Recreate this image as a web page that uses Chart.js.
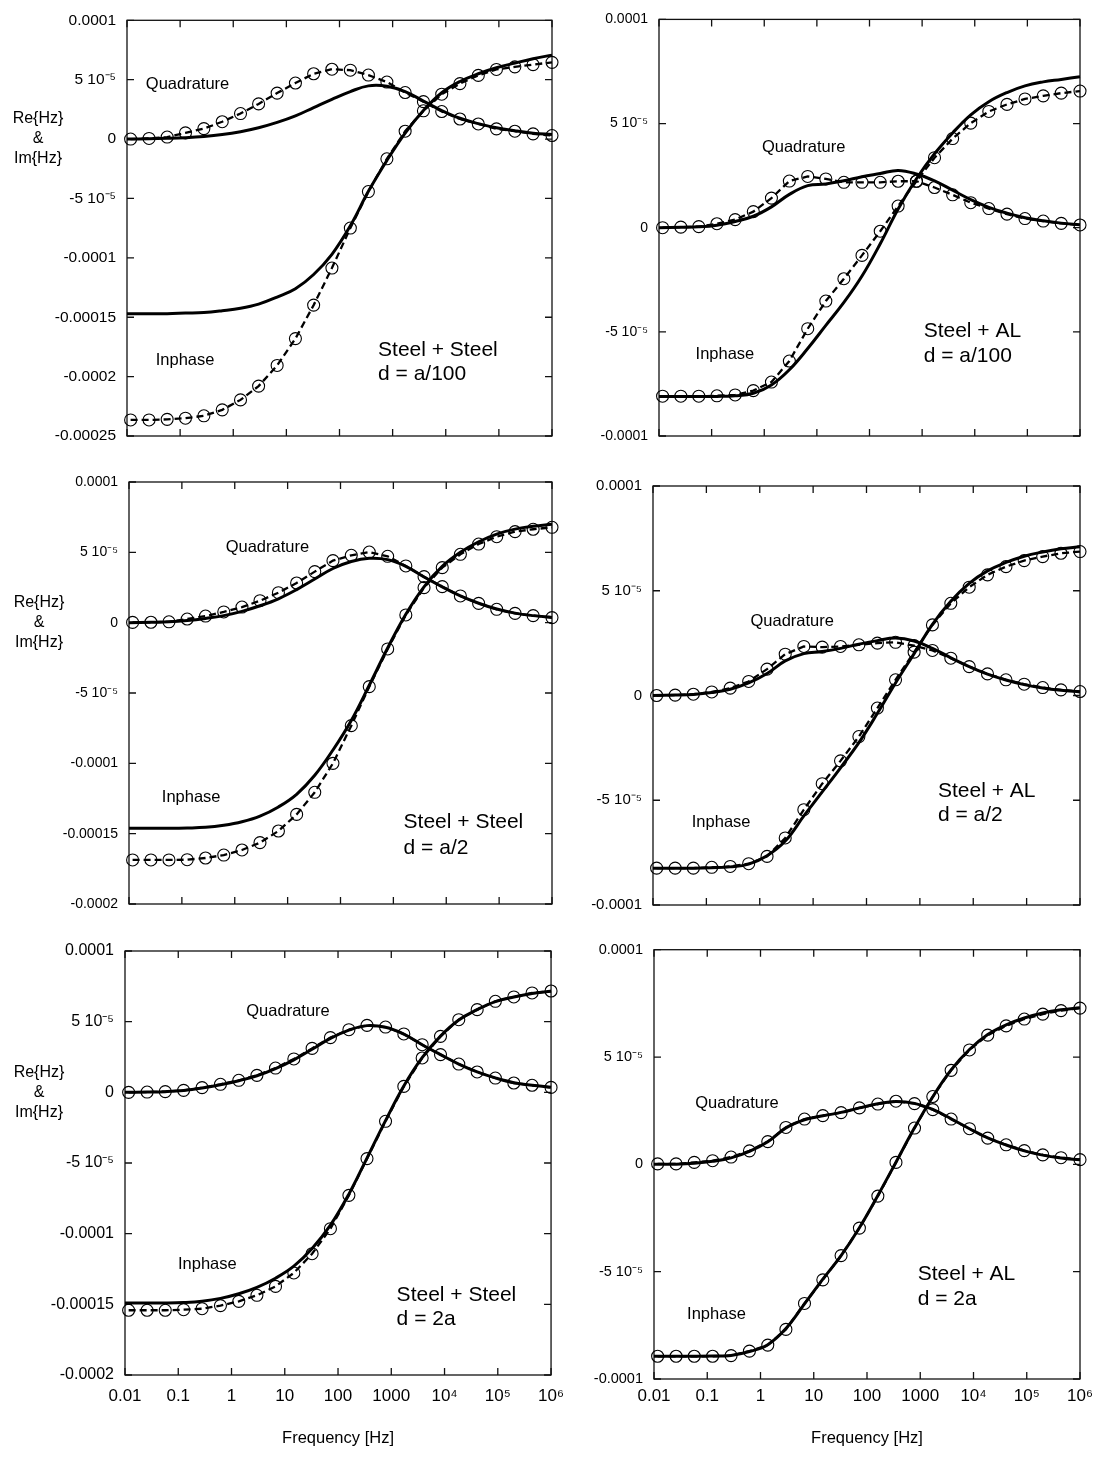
<!DOCTYPE html>
<html lang="en">
<head>
<meta charset="UTF-8">
<title>Re{Hz} &amp; Im{Hz} versus frequency</title>
<script src="https://cdn.jsdelivr.net/npm/chart.js@4"></script>
<style>
  body { margin: 0; background: #fff; }
  #wrap { position: relative; width: 1100px; height: 1458px; }
  #wrap canvas { position: absolute; }
</style>
</head>
<body>
<div id="wrap"></div>
<script>
// frequencies of the computed points (circles), and of the solid curves
const freq = [0.0117, 0.026, 0.057, 0.126, 0.28, 0.62, 1.37, 3.0, 6.7, 14.8, 32.6, 72,
              160, 350, 780, 1720, 3800, 8400, 18500, 41000, 90000, 200000, 440000, 1000000];
const fitFreq = [0.01, 0.026, 0.057, 0.126, 0.28, 0.62, 1.37, 3.0, 6.7, 14.8, 32.6, 72,
                 160, 350, 780, 1720, 3800, 8400, 18500, 41000, 90000, 200000, 440000, 1000000];

const decades = [0.01, 0.1, 1, 10, 100, 1000, 1e4, 1e5, 1e6];
const decadeLabels = ['0.01', '0.1', '1', '10', '100', '1000', '10⁴', '10⁵', '10⁶'];

// y values in units of 1e-5
const yTicks25 = [10, 5, 0, -5, -10, -15, -20, -25];
const yLabels25 = ['0.0001', '5 10⁻⁵', '0', '-5 10⁻⁵', '-0.0001', '-0.00015', '-0.0002', '-0.00025'];
const yTicks20 = [10, 5, 0, -5, -10, -15, -20];
const yLabels20 = ['0.0001', '5 10⁻⁵', '0', '-5 10⁻⁵', '-0.0001', '-0.00015', '-0.0002'];
const yTicks10 = [10, 5, 0, -5, -10];
const yLabels10 = ['0.0001', '5 10⁻⁵', '0', '-5 10⁻⁵', '-0.0001'];

// Steel + Steel, d = a/100
const ssA_quadFit = [0, 0.02, 0.06, 0.12, 0.22, 0.38, 0.62, 0.95, 1.4, 1.95, 2.65, 3.35, 4.0, 4.48, 4.45, 4.0, 3.2, 2.4, 1.75, 1.3, 0.95, 0.7, 0.5, 0.38];
const ssA_quadPts = [0, 0.05, 0.17, 0.52, 0.88, 1.46, 2.15, 2.96, 3.87, 4.72, 5.5, 5.88, 5.8, 5.39, 4.8, 3.92, 3.15, 2.32, 1.69, 1.27, 0.86, 0.66, 0.44, 0.3];
const ssA_inFit = [-14.7, -14.7, -14.7, -14.65, -14.6, -14.45, -14.25, -13.9, -13.3, -12.6, -11.4, -9.7, -7.3, -4.4, -1.8, 0.5, 2.4, 3.9, 4.85, 5.5, 6.0, 6.4, 6.77, 7.07];
const ssA_inPts = [-23.65, -23.65, -23.6, -23.5, -23.3, -22.8, -21.96, -20.8, -19.06, -16.8, -13.98, -10.86, -7.49, -4.42, -1.66, 0.66, 2.38, 3.78, 4.67, 5.36, 5.86, 6.08, 6.27, 6.46];

// Steel + AL, d = a/100
const saA_quadFit = [0, 0.02, 0.04, 0.12, 0.3, 0.55, 1.0, 1.6, 2.02, 2.1, 2.25, 2.45, 2.6, 2.75, 2.58, 2.25, 1.8, 1.35, 0.98, 0.7, 0.48, 0.33, 0.22, 0.14];
const saA_quadPts = [0, 0.03, 0.05, 0.19, 0.39, 0.77, 1.42, 2.24, 2.46, 2.34, 2.18, 2.18, 2.18, 2.23, 2.23, 1.93, 1.58, 1.2, 0.92, 0.65, 0.44, 0.32, 0.21, 0.13];
const saA_inFit = [-8.1, -8.1, -8.1, -8.1, -8.07, -7.95, -7.55, -6.82, -5.8, -4.69, -3.59, -2.32, -0.77, 0.9, 2.35, 3.55, 4.55, 5.42, 6.05, 6.49, 6.81, 7.0, 7.12, 7.25];
const saA_inPts = [-8.09, -8.09, -8.09, -8.07, -8.03, -7.82, -7.41, -6.4, -4.85, -3.52, -2.45, -1.33, -0.17, 1.04, 2.23, 3.36, 4.28, 5.02, 5.58, 5.92, 6.18, 6.33, 6.46, 6.56];

// Steel + Steel, d = a/2
const ssB_quadFit = [0, 0.03, 0.06, 0.15, 0.3, 0.5, 0.8, 1.2, 1.7, 2.35, 3.1, 3.85, 4.35, 4.58, 4.48, 4.0, 3.25, 2.55, 1.9, 1.38, 0.97, 0.68, 0.5, 0.37];
const ssB_quadPts = [0.02, 0.03, 0.06, 0.26, 0.47, 0.76, 1.11, 1.56, 2.13, 2.82, 3.63, 4.41, 4.79, 5.02, 4.72, 4.03, 3.27, 2.56, 1.9, 1.37, 0.95, 0.66, 0.5, 0.36];
const ssB_inFit = [-14.62, -14.62, -14.62, -14.6, -14.55, -14.4, -14.15, -13.75, -13.1, -12.2, -10.85, -9.05, -6.95, -4.45, -1.8, 0.6, 2.55, 4.0, 5.0, 5.75, 6.3, 6.65, 6.85, 7.0];
const ssB_inPts = [-16.87, -16.87, -16.87, -16.85, -16.73, -16.52, -16.16, -15.64, -14.81, -13.63, -12.06, -10.0, -7.32, -4.55, -1.87, 0.55, 2.49, 3.91, 4.86, 5.59, 6.11, 6.47, 6.64, 6.78];

// Steel + AL, d = a/2
const saB_quadFit = [0, 0.02, 0.05, 0.14, 0.3, 0.6, 1.05, 1.65, 2.0, 2.1, 2.25, 2.45, 2.62, 2.74, 2.6, 2.25, 1.8, 1.38, 1.02, 0.74, 0.52, 0.36, 0.25, 0.17];
const saB_quadPts = [0, 0.02, 0.06, 0.17, 0.35, 0.67, 1.26, 1.97, 2.34, 2.31, 2.34, 2.42, 2.5, 2.54, 2.38, 2.15, 1.78, 1.38, 1.03, 0.75, 0.54, 0.38, 0.27, 0.19];
const saB_inFit = [-8.24, -8.24, -8.24, -8.22, -8.18, -8.05, -7.65, -6.95, -5.75, -4.6, -3.45, -2.25, -0.85, 0.6, 2.0, 3.4, 4.5, 5.35, 5.95, 6.35, 6.65, 6.85, 7.0, 7.1];
const saB_inPts = [-8.24, -8.24, -8.24, -8.2, -8.16, -8.03, -7.68, -6.8, -5.45, -4.21, -3.12, -1.96, -0.6, 0.75, 2.07, 3.37, 4.4, 5.17, 5.76, 6.15, 6.44, 6.63, 6.79, 6.87];

// Steel + Steel, d = 2a
const ssC_quadFit = [0, 0.02, 0.05, 0.13, 0.3, 0.53, 0.82, 1.17, 1.68, 2.3, 3.05, 3.82, 4.4, 4.72, 4.6, 4.12, 3.37, 2.67, 2.0, 1.45, 1.02, 0.68, 0.5, 0.36];
const ssC_quadPts = [0, 0.02, 0.05, 0.14, 0.33, 0.57, 0.85, 1.2, 1.72, 2.36, 3.11, 3.87, 4.43, 4.74, 4.62, 4.13, 3.37, 2.67, 2.0, 1.44, 1.01, 0.66, 0.5, 0.35];
const ssC_inFit = [-14.9, -14.9, -14.9, -14.87, -14.78, -14.58, -14.25, -13.8, -13.15, -12.3, -11.05, -9.4, -7.2, -4.65, -2.0, 0.45, 2.45, 3.98, 5.12, 5.85, 6.42, 6.75, 7.0, 7.15];
const ssC_inPts = [-15.42, -15.42, -15.42, -15.38, -15.31, -15.09, -14.79, -14.36, -13.73, -12.78, -11.42, -9.65, -7.29, -4.69, -2.05, 0.42, 2.43, 3.96, 5.14, 5.85, 6.44, 6.75, 7.03, 7.17];

// Steel + AL, d = 2a
const saC_quadFit = [0, 0.01, 0.05, 0.14, 0.3, 0.6, 1.05, 1.7, 2.08, 2.26, 2.42, 2.63, 2.82, 2.93, 2.84, 2.56, 2.12, 1.66, 1.23, 0.9, 0.63, 0.43, 0.3, 0.21];
const saC_quadPts = [0.02, 0.02, 0.09, 0.17, 0.34, 0.63, 1.06, 1.72, 2.11, 2.27, 2.41, 2.63, 2.81, 2.94, 2.83, 2.55, 2.11, 1.66, 1.22, 0.91, 0.64, 0.44, 0.31, 0.22];
const saC_inFit = [-8.94, -8.94, -8.94, -8.93, -8.9, -8.72, -8.4, -7.65, -6.5, -5.35, -4.25, -2.95, -1.45, 0.1, 1.7, 3.15, 4.4, 5.35, 6.05, 6.5, 6.82, 7.05, 7.2, 7.3];
const saC_inPts = [-8.94, -8.94, -8.94, -8.94, -8.91, -8.7, -8.42, -7.69, -6.48, -5.38, -4.25, -2.97, -1.48, 0.09, 1.69, 3.16, 4.38, 5.33, 6.02, 6.45, 6.77, 7.0, 7.16, 7.28];

const FONT = '"Liberation Sans", Arial, Helvetica, sans-serif';
Chart.defaults.font.family = FONT;
Chart.defaults.color = '#000';

// layout of the six panels (canvas cell + plot box in page pixels)
const panels = [
  { cx: 0, cy: 0, w: 575, h: 460, box: {l: 127, t: 13, r: 552, b: 436}, yMin: -25, yMax: 10,
    yTicks: yTicks25, yLabels: yLabels25, tickSize: 15.5, yTitle: 38,
    quadFit: ssA_quadFit, quadPts: ssA_quadPts, inFit: ssA_inFit, inPts: ssA_inPts,
    notes: [['Quadrature', 0.138, 4.59, 'center'], ['Inphase', 0.124, -18.67, 'center'],
            ['Steel + Steel', 532, -17.76, 'left', 21], ['d = a/100', 532, -19.83, 'left', 21]] },
  { cx: 575, cy: 0, w: 525, h: 460, box: {l: 659, t: 13, r: 1080, b: 436}, yMin: -10, yMax: 10,
    yTicks: yTicks10, yLabels: yLabels10, tickSize: 14,
    quadFit: saA_quadFit, quadPts: saA_quadPts, inFit: saA_inFit, inPts: saA_inPts,
    notes: [['Quadrature', 5.6, 3.84, 'center'], ['Inphase', 0.179, -6.07, 'center'],
            ['Steel + AL', 1069, -4.96, 'left', 21], ['d = a/100', 1069, -6.15, 'left', 21]] },
  { cx: 0, cy: 460, w: 575, h: 470, box: {l: 129, t: 482, r: 552, b: 904}, yMin: -20, yMax: 10,
    yTicks: yTicks20, yLabels: yLabels20, tickSize: 14, yTitle: 39,
    quadFit: ssB_quadFit, quadPts: ssB_quadPts, inFit: ssB_inFit, inPts: ssB_inPts,
    notes: [['Quadrature', 4.14, 5.36, 'center'], ['Inphase', 0.15, -12.44, 'center'],
            ['Steel + Steel', 1560, -14.22, 'left', 21], ['d = a/2', 1560, -16.04, 'left', 21]] },
  { cx: 575, cy: 460, w: 525, h: 470, box: {l: 653, t: 486, r: 1080, b: 905}, yMin: -10, yMax: 10,
    yTicks: yTicks10, yLabels: yLabels10, tickSize: 15,
    quadFit: saB_quadFit, quadPts: saB_quadPts, inFit: saB_inFit, inPts: saB_inPts,
    notes: [['Quadrature', 4.06, 3.53, 'center'], ['Inphase', 0.189, -6.04, 'center'],
            ['Steel + AL', 2180, -4.55, 'left', 21], ['d = a/2', 2180, -5.72, 'left', 21]] },
  { cx: 0, cy: 930, w: 575, h: 528, box: {l: 125, t: 951, r: 552, b: 1375}, yMin: -20, yMax: 10,
    yTicks: yTicks20, yLabels: yLabels20, tickSize: 16, yTitle: 39, bottom: true, xPad: 11,
    quadFit: ssC_quadFit, quadPts: ssC_quadPts, inFit: ssC_inFit, inPts: ssC_inPts,
    notes: [['Quadrature', 11.5, 5.75, 'center'], ['Inphase', 0.352, -12.19, 'center'],
            ['Steel + Steel', 1260, -14.32, 'left', 21], ['d = 2a', 1260, -16.04, 'left', 21]] },
  { cx: 575, cy: 930, w: 525, h: 528, box: {l: 654, t: 949, r: 1080, b: 1379}, yMin: -10, yMax: 10,
    yTicks: yTicks10, yLabels: yLabels10, tickSize: 14.5, bottom: true, xPad: 7,
    quadFit: saC_quadFit, quadPts: saC_quadPts, inFit: saC_inFit, inPts: saC_inPts,
    notes: [['Quadrature', 0.361, 2.86, 'center'], ['Inphase', 0.149, -6.98, 'center'],
            ['Steel + AL', 895, -5.11, 'left', 21], ['d = 2a', 895, -6.28, 'left', 21]] }
];

function series(xs, ys) {
  return xs.map((f, i) => ({x: f, y: ys[i]}));
}

const solid = {
  borderColor: '#000', borderWidth: 3, pointRadius: 0,
  tension: 0.4, fill: false, clip: 10
};
const dashed = {
  borderColor: '#000', borderWidth: 2.3, borderDash: [7, 4], tension: 0, fill: false, clip: 10,
  pointRadius: 6, pointBorderWidth: 1.1, pointBorderColor: '#000', pointBackgroundColor: 'rgba(0,0,0,0)'
};

// frame, inward tick marks, y title and text notes
function framePlugin(p) {
  return {
    id: 'frame',
    beforeDatasetsDraw(chart) {
      const {ctx, chartArea: a, scales: {x, y}} = chart;
      ctx.save();
      ctx.strokeStyle = '#111';
      ctx.lineWidth = 1.3;
      ctx.strokeRect(a.left, a.top, a.right - a.left, a.bottom - a.top);
      ctx.beginPath();
      decades.forEach(v => {
        const px = x.getPixelForValue(v);
        ctx.moveTo(px, a.bottom); ctx.lineTo(px, a.bottom - 7);
        ctx.moveTo(px, a.top); ctx.lineTo(px, a.top + 7);
      });
      p.yTicks.forEach(v => {
        const py = y.getPixelForValue(v);
        ctx.moveTo(a.left, py); ctx.lineTo(a.left + 7, py);
        ctx.moveTo(a.right, py); ctx.lineTo(a.right - 7, py);
      });
      ctx.stroke();
      ctx.restore();
    },
    afterDraw(chart) {
      const {ctx, scales: {x, y}} = chart;
      ctx.save();
      ctx.fillStyle = '#000';
      ctx.textBaseline = 'middle';
      p.notes.forEach(([text, fx, fy, align, size]) => {
        ctx.font = (size || 16.5) + 'px ' + FONT;
        ctx.textAlign = align;
        ctx.fillText(text, x.getPixelForValue(fx), y.getPixelForValue(fy));
      });
      if (p.yTitle) {
        ctx.font = '16px ' + FONT;
        ctx.textAlign = 'center';
        const y0 = y.getPixelForValue(0);
        ['Re{Hz}', '&', 'Im{Hz}'].forEach((t, i) => ctx.fillText(t, p.yTitle, y0 + (i - 1) * 20));
      }
      ctx.restore();
    }
  };
}

const wrap = document.getElementById('wrap');
panels.forEach(p => {
  const cv = document.createElement('canvas');
  cv.width = p.w; cv.height = p.h;
  cv.style.left = p.cx + 'px'; cv.style.top = p.cy + 'px';
  wrap.appendChild(cv);

  const xHeight = p.bottom ? (p.cy + p.h - p.box.b) : 0;
  new Chart(cv.getContext('2d'), {
    type: 'line',
    data: {
      datasets: [
        {data: series(fitFreq, p.quadFit), ...solid},
        {data: series(fitFreq, p.inFit), ...solid},
        {data: series(freq, p.quadPts), ...dashed},
        {data: series(freq, p.inPts), ...dashed}
      ]
    },
    options: {
      responsive: false,
      animation: false,
      events: [],
      layout: {
        padding: {
          left: 0,
          top: p.box.t - p.cy,
          right: p.cx + p.w - p.box.r,
          bottom: p.bottom ? 0 : (p.cy + p.h - p.box.b)
        }
      },
      plugins: {legend: {display: false}, tooltip: {enabled: false}},
      scales: {
        x: {
          type: 'logarithmic', position: 'bottom', min: 0.01, max: 1e6,
          grid: {display: false, drawTicks: false}, border: {display: false},
          afterBuildTicks: s => { s.ticks = decades.map(v => ({value: v})); },
          afterFit: s => { s.height = xHeight; },
          ticks: {
            display: !!p.bottom, autoSkip: false, maxRotation: 0, padding: p.xPad || 10,
            font: {size: 17},
            callback: v => { const i = decades.indexOf(v); return i < 0 ? '' : decadeLabels[i]; }
          },
          title: {
            display: !!p.bottom, text: 'Frequency [Hz]', font: {size: 16.5},
            padding: {top: 0, bottom: 10}
          }
        },
        y: {
          type: 'linear', min: p.yMin, max: p.yMax,
          grid: {display: false, drawTicks: false}, border: {display: false},
          afterBuildTicks: s => { s.ticks = p.yTicks.map(v => ({value: v})); },
          afterFit: s => { s.width = p.box.l - p.cx; },
          ticks: {
            padding: 11, font: {size: p.tickSize},
            callback: v => { const i = p.yTicks.indexOf(v); return i < 0 ? '' : p.yLabels[i]; }
          }
        }
      }
    },
    plugins: [framePlugin(p)]
  });
});
</script>
</body>
</html>
